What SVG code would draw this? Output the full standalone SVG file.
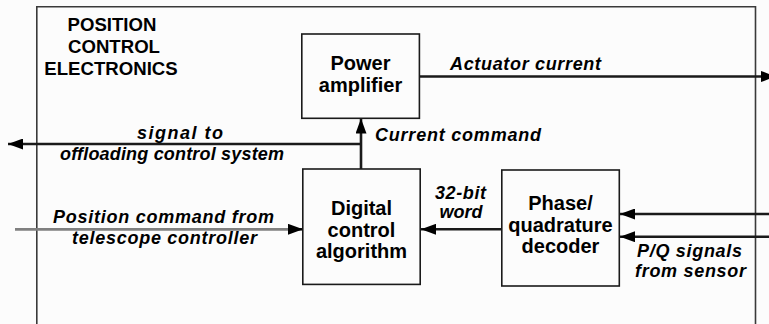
<svg xmlns="http://www.w3.org/2000/svg" width="769" height="324" viewBox="0 0 769 324">
  <defs>
    <style>
      .bg { fill: #fcfcfc; }
      .frame { fill: none; stroke: #3a3a3a; stroke-width: 1.6; }
      .box { fill: #fcfcfc; stroke: #1a1a1a; stroke-width: 1.6; }
      .title { font-family: "Liberation Sans", Arial, sans-serif; font-weight: bold; font-size: 18.6px; fill: #000; text-anchor: middle; }
      .boxtext { font-family: "Liberation Sans", Arial, sans-serif; font-weight: bold; font-size: 20px; fill: #000; text-anchor: middle; }
      .label { font-family: "Liberation Sans", Arial, sans-serif; font-weight: bold; font-style: italic; font-size: 18px; fill: #000; }
      .wire { fill: none; stroke: #1a1a1a; stroke-width: 2.6; }
      .wire-gray { fill: none; stroke: #808080; stroke-width: 2.8; }
    </style>
    <marker id="arrow" markerUnits="userSpaceOnUse" markerWidth="15" markerHeight="11" refX="15" refY="5.5" orient="auto">
      <path d="M0,0 L15,5.5 L0,11 Z" fill="#000"/>
    </marker>
  </defs>

  <rect class="bg" x="0" y="0" width="769" height="324"/>

  <!-- outer frame (open at the bottom) -->
  <path class="frame" d="M36.8,324 L36.8,6.8 L755.5,6.8 L755.5,324"/>

  <g id="title">
    <text class="title" x="112" y="31">POSITION</text>
    <text class="title" x="114" y="53">CONTROL</text>
    <text class="title" x="111" y="75">ELECTRONICS</text>
  </g>

  <g id="connectors">
    <!-- Actuator current -->
    <path class="wire" d="M420,76.5 L776,76.5" marker-end="url(#arrow)"/>
    <!-- Current command (vertical) -->
    <path class="wire" d="M361,169 L361,118.5" marker-end="url(#arrow)"/>
    <!-- signal to offloading control system -->
    <path class="wire" d="M362,144 L8,144" marker-end="url(#arrow)"/>
    <!-- Position command from telescope controller -->
    <path class="wire-gray" d="M15,229.3 L290,229.3"/>
    <path class="wire" d="M289,229.3 L303,229.3" marker-end="url(#arrow)"/>
    <!-- 32-bit word -->
    <path class="wire" d="M502,229.3 L421,229.3" marker-end="url(#arrow)"/>
    <!-- P/Q signals from sensor -->
    <path class="wire" d="M769,214 L620,214" marker-end="url(#arrow)"/>
    <path class="wire" d="M769,236.7 L620,236.7" marker-end="url(#arrow)"/>
  </g>

  <g id="power-amplifier">
    <rect class="box" x="301.8" y="34" width="117.6" height="84.3"/>
    <text class="boxtext" x="360.5" y="70">Power</text>
    <text class="boxtext" x="360.5" y="92">amplifier</text>
  </g>

  <g id="digital-control-algorithm">
    <rect class="box" x="302.8" y="169" width="117.4" height="115.4"/>
    <text class="boxtext" x="361.5" y="215">Digital</text>
    <text class="boxtext" x="361.5" y="236.7">control</text>
    <text class="boxtext" x="361.5" y="258.3">algorithm</text>
  </g>

  <g id="phase-quadrature-decoder">
    <rect class="box" x="501.8" y="170" width="117.5" height="116"/>
    <text class="boxtext" x="560.5" y="210">Phase/</text>
    <text class="boxtext" x="560.5" y="231.7">quadrature</text>
    <text class="boxtext" x="560.5" y="253.3">decoder</text>
  </g>

  <g id="labels">
    <text class="label" x="450" y="69.5" textLength="151" lengthAdjust="spacing">Actuator current</text>
    <text class="label" x="137" y="138.5" textLength="86" lengthAdjust="spacing">signal to</text>
    <text class="label" x="60" y="160" textLength="224" lengthAdjust="spacing">offloading control system</text>
    <text class="label" x="375" y="141" textLength="166" lengthAdjust="spacing">Current command</text>
    <text class="label" x="53" y="222.7" textLength="221" lengthAdjust="spacing">Position command from</text>
    <text class="label" x="72" y="244.3" textLength="185" lengthAdjust="spacing">telescope controller</text>
    <text class="label" x="435" y="199" textLength="51" lengthAdjust="spacing">32-bit</text>
    <text class="label" x="439.5" y="218.3" textLength="43" lengthAdjust="spacing">word</text>
    <text class="label" x="637" y="256.7" textLength="105" lengthAdjust="spacing">P/Q signals</text>
    <text class="label" x="635" y="277.3" textLength="111" lengthAdjust="spacing">from sensor</text>
  </g>
</svg>
